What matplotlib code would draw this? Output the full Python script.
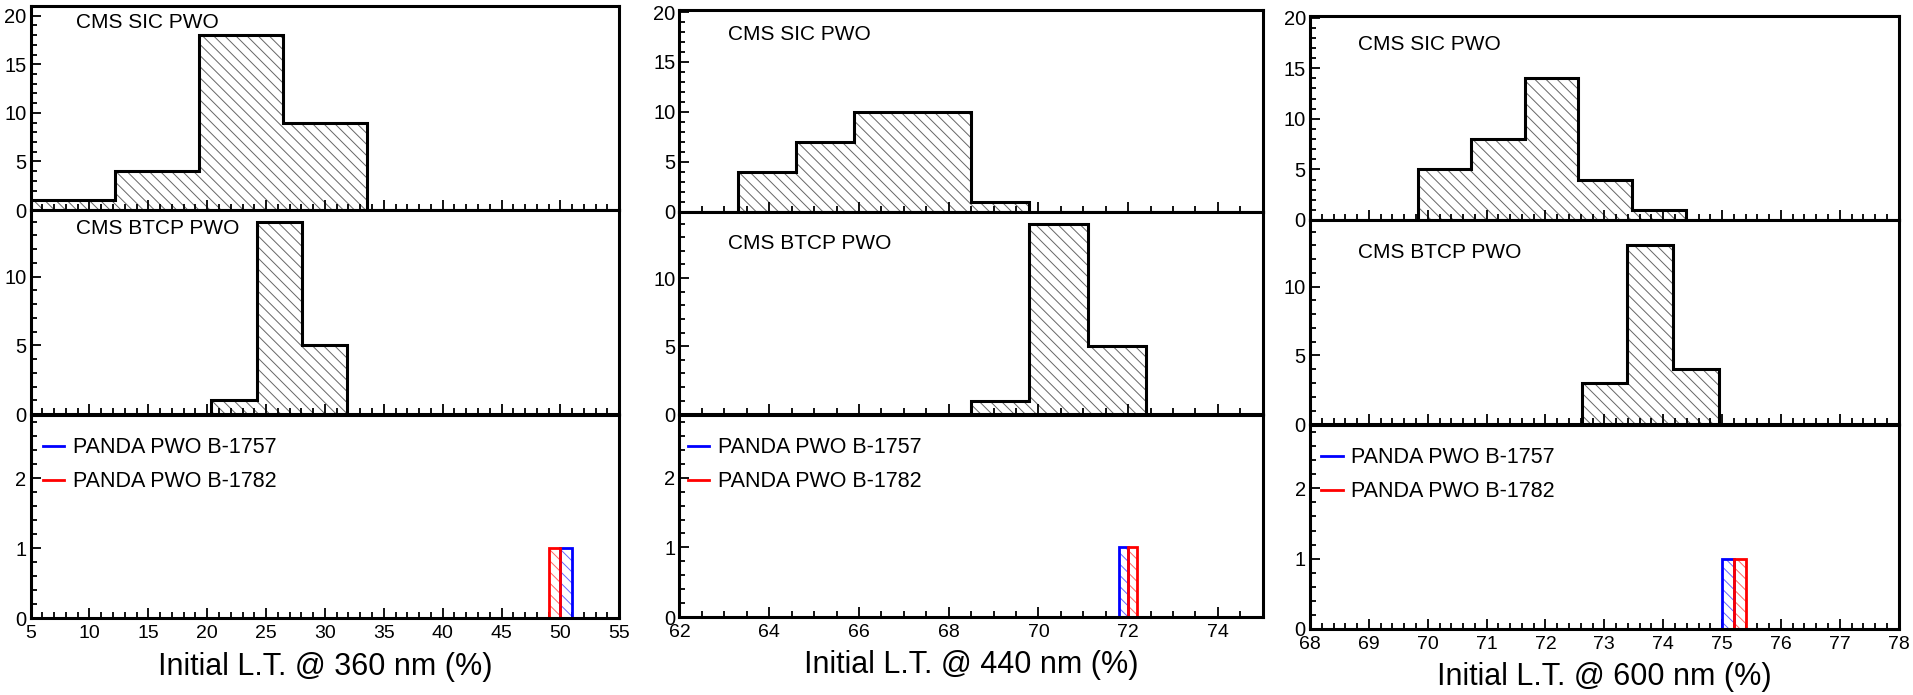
import numpy as np
import matplotlib.pyplot as plt
from matplotlib.ticker import MultipleLocator

plt.rcParams['font.family'] = ['Liberation Sans', 'DejaVu Sans']
plt.rcParams['hatch.linewidth'] = 0.7

# bin edges / counts
sic_360_edges = [5.0, 12.15, 19.3, 26.45, 33.6]
sic_360_counts = [1, 4, 18, 9]
btcp_360_edges = [20.35, 24.2, 28.05, 31.9]
btcp_360_counts = [1, 14, 5]
b1757_360 = [50.0, 51.0]
b1782_360 = [49.0, 50.0]

sic_440_edges = [63.3, 64.6, 65.9, 67.2, 68.5, 69.8]
sic_440_counts = [4, 7, 10, 10, 1]
btcp_440_edges = [68.5, 69.8, 71.1, 72.4]
btcp_440_counts = [1, 14, 5]
b1757_440 = [71.8, 72.0]
b1782_440 = [72.0, 72.2]

sic_600_edges = [69.83, 70.74, 71.65, 72.56, 73.47, 74.38]
sic_600_counts = [5, 8, 14, 4, 1]
btcp_600_edges = [72.62, 73.39, 74.16, 74.94]
btcp_600_counts = [3, 13, 4]
b1757_600 = [75.0, 75.2]
b1782_600 = [75.2, 75.4]

wavelengths = [360, 440, 600]
sic = [(sic_360_edges, sic_360_counts), (sic_440_edges, sic_440_counts), (sic_600_edges, sic_600_counts)]
btcp = [(btcp_360_edges, btcp_360_counts), (btcp_440_edges, btcp_440_counts), (btcp_600_edges, btcp_600_counts)]
b1757 = [b1757_360, b1757_440, b1757_600]
b1782 = [b1782_360, b1782_440, b1782_600]

xlims = [(5, 55), (62, 75), (68, 78)]
xmajor = [5, 2, 1]
xminor = [1, 0.5, 0.2]
top_ymax = [21, 20.2, 20.2]

# column left edges / widths and row [bottom, height] (figure fractions)
col_x = [(0.0160, 0.3077), (0.3552, 0.3049), (0.6848, 0.3077)]
row_y = [
    [(0.6978, 0.2935), (0.4043, 0.2935), (0.1104, 0.2925)],
    [(0.6950, 0.2906), (0.4039, 0.2911), (0.1122, 0.2906)],
    [(0.6835, 0.2940), (0.3895, 0.2940), (0.0950, 0.2935)],
]
sic_txt_y = [0.917, 0.88, 0.857]
btcp_txt_y = [0.91, 0.842, 0.841]
txt_x = [0.077, 0.083, 0.082]
leg_x = [0.021, 0.014, 0.019]
xlabel_y = [-0.238, -0.238, -0.234]

HATCH = '\\\\\\'


def style(ax, xl, maj, mnr, ymax, ymaj, ymnr, labels):
    ax.set_xlim(*xl)
    ax.set_ylim(0, ymax)
    ax.xaxis.set_major_locator(MultipleLocator(maj))
    ax.xaxis.set_minor_locator(MultipleLocator(mnr))
    ax.yaxis.set_major_locator(MultipleLocator(ymaj))
    ax.yaxis.set_minor_locator(MultipleLocator(ymnr))
    ax.tick_params(which='both', direction='in', top=False, right=False, width=1.3)
    ax.tick_params(which='major', length=7)
    ax.tick_params(which='minor', length=4)
    ax.tick_params(axis='y', labelsize=14.5, pad=3)
    ax.tick_params(axis='x', labelsize=14, pad=5, labelbottom=labels)
    for s in ax.spines.values():
        s.set_linewidth(2.2)


def black_hist(ax, edges, counts):
    edges = np.array(edges)
    ax.bar(edges[:-1], counts, width=np.diff(edges), align='edge', fill=False,
           hatch=HATCH, edgecolor='0.4', linewidth=0, zorder=1)
    ax.stairs(counts, edges, color='black', linewidth=2.2, zorder=2)


fig = plt.figure(figsize=(19.13, 6.95), dpi=100)

for i in range(3):
    xl = xlims[i]
    left, width = col_x[i]
    ax_top = fig.add_axes([left, row_y[i][0][0], width, row_y[i][0][1]])
    ax_mid = fig.add_axes([left, row_y[i][1][0], width, row_y[i][1][1]])
    ax_bot = fig.add_axes([left, row_y[i][2][0], width, row_y[i][2][1]])

    black_hist(ax_top, *sic[i])
    ax_top.text(txt_x[i], sic_txt_y[i], 'CMS SIC PWO', transform=ax_top.transAxes,
                fontsize=15, va='center', ha='left')
    style(ax_top, xl, xmajor[i], xminor[i], top_ymax[i], 5, 1, False)

    black_hist(ax_mid, *btcp[i])
    ax_mid.text(txt_x[i], btcp_txt_y[i], 'CMS BTCP PWO', transform=ax_mid.transAxes,
                fontsize=15, va='center', ha='left')
    style(ax_mid, xl, xmajor[i], xminor[i], 14.85, 5, 1, False)

    for bins, col, lab in [(b1757[i], 'blue', 'PANDA PWO B-1757'),
                           (b1782[i], 'red', 'PANDA PWO B-1782')]:
        ax_bot.bar(bins[0], 1, width=bins[1] - bins[0], align='edge', fill=False,
                   hatch=HATCH, edgecolor=col, linewidth=0, alpha=0.6, zorder=1)
        ax_bot.stairs([0, 1, 0], [xl[0], bins[0], bins[1], xl[1]], color=col,
                      linewidth=2.0, label=lab, zorder=2)
    style(ax_bot, xl, xmajor[i], xminor[i], 2.9, 1, 0.2, True)
    ax_bot.legend(loc='upper left', bbox_to_anchor=(leg_x[i], 0.89), frameon=False,
                  fontsize=15.5, handlelength=1.0, handletextpad=0.4,
                  labelspacing=0.6, borderpad=0, borderaxespad=0)
    ax_bot.set_xlabel('Initial L.T. @ %d nm (%%)' % wavelengths[i], fontsize=22)
    ax_bot.xaxis.set_label_coords(0.5, xlabel_y[i])
    ax_bot.xaxis.label.set_va('center')

fig.savefig('out.png', dpi=100)
